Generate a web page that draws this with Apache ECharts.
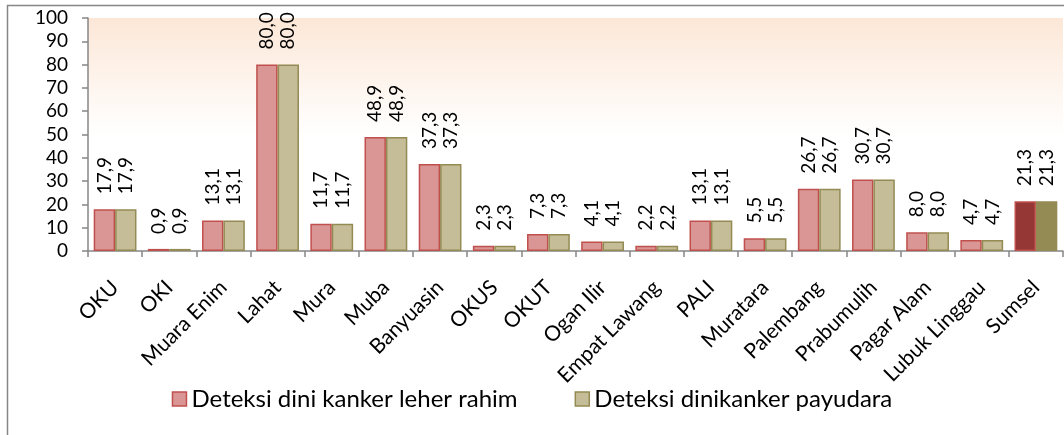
<!DOCTYPE html>
<html>
<head>
<meta charset="utf-8">
<style>
  html, body { margin: 0; padding: 0; background: #fff; }
  #chart { width: 1064px; height: 435px; }
</style>
<script src="https://cdn.jsdelivr.net/npm/echarts@6/dist/echarts.min.js"></script>
</head>
<body>
<div id="chart"></div>
<script>
// Districts / cities of Sumatera Selatan, with the province total last
var categories = ['OKU', 'OKI', 'Muara Enim', 'Lahat', 'Mura', 'Muba', 'Banyuasin', 'OKUS', 'OKUT',
  'Ogan Ilir', 'Empat Lawang', 'PALI', 'Muratara', 'Palembang', 'Prabumulih', 'Pagar Alam',
  'Lubuk Linggau', 'Sumsel'];

// Early detection coverage (%)
var leherRahim = [17.9, 0.9, 13.1, 80.0, 11.7, 48.9, 37.3, 2.3, 7.3, 4.1, 2.2, 13.1, 5.5, 26.7, 30.7, 8.0, 4.7, 21.3];
var payudara   = [17.9, 0.9, 13.1, 80.0, 11.7, 48.9, 37.3, 2.3, 7.3, 4.1, 2.2, 13.1, 5.5, 26.7, 30.7, 8.0, 4.7, 21.3];

var seriesNames = ['Deteksi dini kanker leher rahim', 'Deteksi dinikanker payudara'];

var FONT = 'Lato, "Liberation Sans", sans-serif';
var AXIS_GRAY = '#868686';

function fmt(v) {
  return v.toFixed(1).replace('.', ',');
}

// The last category (province total) is drawn in darker shades
function buildData(values, fill, border, totalFill, totalBorder) {
  return values.map(function (v, i) {
    var last = i === values.length - 1;
    return {
      value: v,
      itemStyle: {
        color: last ? totalFill : fill,
        borderColor: last ? totalBorder : border,
        borderWidth: 1.5
      }
    };
  });
}

var valueLabel = {
  show: true,
  position: 'top',
  distance: 15,
  rotate: 90,
  align: 'left',
  verticalAlign: 'middle',
  fontFamily: FONT,
  fontSize: 19,
  color: '#000',
  formatter: function (p) { return fmt(p.value); }
};

var chart = echarts.init(document.getElementById('chart'), null, { renderer: 'canvas' });

chart.setOption({
  animation: false,
  backgroundColor: '#fff',
  graphic: [{
    type: 'rect',
    z: -10,
    silent: true,
    shape: { x: 7.5, y: 5.5, width: 1100, height: 500 },
    style: { fill: 'none', stroke: AXIS_GRAY, lineWidth: 1.5 }
  }],
  grid: {
    left: 88,
    right: 1,
    top: 18,
    bottom: 184,
    show: true,
    borderWidth: 0,
    backgroundColor: new echarts.graphic.LinearGradient(0, 0, 0, 1, [
      { offset: 0, color: '#FCE7D7' },
      { offset: 0.5, color: '#FFFFFF' },
      { offset: 1, color: '#FFFFFF' }
    ])
  },
  legend: {
    top: 382,
    left: 'center',
    itemWidth: 14,
    itemHeight: 14,
    itemGap: 57,
    textStyle: { fontFamily: FONT, fontSize: 24, color: '#000' },
    data: [
      { name: seriesNames[0], icon: 'rect', itemStyle: { color: '#D99694', borderColor: '#C0504D', borderWidth: 1.5 } },
      { name: seriesNames[1], icon: 'rect', itemStyle: { color: '#C4BD97', borderColor: '#948A54', borderWidth: 1.5 } }
    ]
  },
  xAxis: {
    type: 'category',
    data: categories,
    axisLine: { lineStyle: { color: AXIS_GRAY, width: 1.5 } },
    axisTick: { show: true, length: 6, alignWithLabel: false, lineStyle: { color: AXIS_GRAY, width: 1.5 } },
    axisLabel: {
      interval: 0,
      rotate: 45,
      margin: 33,
      fontFamily: FONT,
      fontSize: 21,
      color: '#000'
    }
  },
  yAxis: {
    type: 'value',
    min: 0,
    max: 100,
    interval: 10,
    axisLine: { show: true, lineStyle: { color: AXIS_GRAY, width: 1.5 } },
    axisTick: { show: true, length: 6, lineStyle: { color: AXIS_GRAY, width: 1.5 } },
    splitLine: { show: false },
    axisLabel: {
      margin: 20,
      fontFamily: FONT,
      fontSize: 19,
      color: '#000'
    }
  },
  series: [
    {
      name: seriesNames[0],
      type: 'bar',
      barGap: '0%',
      barCategoryGap: '21%',
      data: buildData(leherRahim, '#D99694', '#C0504D', '#953735', '#C0504D'),
      label: valueLabel
    },
    {
      name: seriesNames[1],
      type: 'bar',
      data: buildData(payudara, '#C4BD97', '#948A54', '#948A54', '#948A54'),
      label: valueLabel
    }
  ]
});
</script>
</body>
</html>
